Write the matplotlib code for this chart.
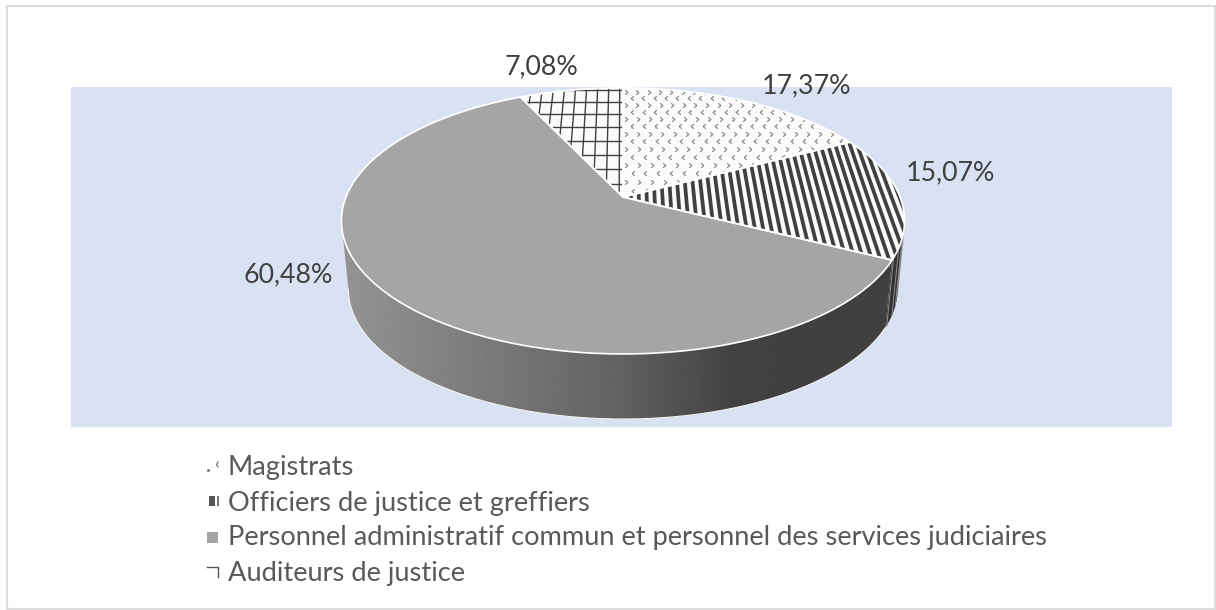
"""3D-looking pie of staff shares, drawn in pixel coordinates."""

import matplotlib

matplotlib.use("Agg")

import matplotlib.pyplot as plt
import numpy as np
from matplotlib.patches import Polygon, Rectangle
from matplotlib.path import Path

CATEGORIES = [
    "Magistrats",
    "Officiers de justice et greffiers",
    "Personnel administratif commun et personnel des services judiciaires",
    "Auditeurs de justice",
]
SHARES = [17.37, 15.07, 60.48, 7.08]

LABEL_POS = [(807, 86), (950, 173), (288, 275), (541, 67)]
LEGEND_Y = [468, 503, 538, 573]

DARK = "#404040"
PALE = "#FBFBFB"
GREY = "#A5A5A5"
BAND = "#D9E2F3"

# perspective of the pie's disc: apex, scale and foreshortening
APEX_X, APEX_Y = 623, 197
SCALE_X, SCALE_Y, PERSP = 277, 128.7, 0.18
WALL_SHRINK, WALL_DROP = 0.975, 69

plt.rcParams["font.family"] = ["Lato", "DejaVu Sans"]


def project(x, y, shrink=1.0, drop=0.0):
    """Disc coordinates (unit circle) to picture pixels."""
    x, y = np.asarray(x, float), np.asarray(y, float)
    d = 1 + PERSP * y
    return (
        APEX_X + shrink * SCALE_X * x / d,
        APEX_Y + drop - shrink * SCALE_Y * y / d,
    )


def rim(t0, t1, shrink=1.0, drop=0.0, n=200):
    t = np.radians(np.linspace(t0, t1, n))
    return np.column_stack(project(np.sin(t), np.cos(t), shrink, drop))


def wedge(ax, t0, t1, colour):
    pts = np.vstack([[APEX_X, APEX_Y], rim(t0, t1)])
    patch = Polygon(pts, closed=True, fc=colour, ec="none", zorder=3)
    ax.add_patch(patch)
    return pts, patch


def chevrons(ax, patch):
    left = Path([(0.6, 1), (-0.6, 0), (0.6, -1)], [1, 2, 2])
    right = Path([(-0.6, 1), (0.6, 0), (-0.6, -1)], [1, 2, 2])
    for row, y in enumerate(np.arange(-0.02, 1.02, 0.07)):
        off = 0.024 * (row % 2)
        xs = np.arange(0.012 + off, 1.0, 0.048)
        px, py = project(xs, np.full_like(xs, y))
        line, = ax.plot(
            px, py, ls="none", marker=left if row % 2 else right, ms=3.2,
            mfc="none", mec="#808080", mew=0.8, zorder=4,
        )
        line.set_clip_path(patch)


def stripes(ax, patch):
    for x in np.arange(0.0, 1.05, 0.0285):
        px, py = project([x, x], [-1.0, 1.0])
        line, = ax.plot(px, py, color=DARK, lw=2.7, solid_capstyle="butt", zorder=4)
        line.set_clip_path(patch)


def grid(ax, patch):
    for x in np.arange(-0.014, -0.5, -0.047):
        px, py = project([x, x], [-0.1, 1.1])
        line, = ax.plot(px, py, color=DARK, lw=1.0, zorder=4)
        line.set_clip_path(patch)
    for y in np.arange(0.1, 1.1, 0.125):
        px, py = project([-1, 0], [y, y])
        line, = ax.plot(px, py, color=DARK, lw=1.0, zorder=4)
        line.set_clip_path(patch)


def wall(ax, t0, t1):
    """Grey side of the big slice, plus the striped sliver right of it."""
    tangent = np.degrees(np.arccos(-PERSP))
    top = rim(t0, 360 - tangent)
    bottom = rim(360 - tangent, t0, WALL_SHRINK, WALL_DROP)
    pts = np.vstack([top, bottom])
    patch = Polygon(pts, closed=True, fc="none", ec="none", zorder=2)
    ax.add_patch(patch)
    xs = np.arange(335, 900)
    vals = np.interp(xs, [341, 620, 735, 900], [0.58, 0.385, 0.255, 0.25])
    img = ax.imshow(
        vals[None, :], extent=(335, 900, 430, 200), cmap="gray", vmin=0, vmax=1,
        aspect="auto", zorder=2, interpolation="bilinear",
    )
    img.set_clip_path(patch)
    ax.plot(bottom[:, 0], bottom[:, 1], color="#F2F2F2", lw=0.8, zorder=2)

    side = np.vstack([rim(tangent, t0), rim(t0, tangent, WALL_SHRINK, WALL_DROP)])
    sliver = Polygon(side, closed=True, fc="#333333", ec="none", zorder=2)
    ax.add_patch(sliver)
    for t in np.linspace(tangent + 3, t0 - 1, 4):
        a = np.radians(t)
        xa, ya = project(np.sin(a), np.cos(a))
        xb, yb = project(np.sin(a), np.cos(a), WALL_SHRINK, WALL_DROP)
        ax.plot([xa, xb], [ya, yb], color="#8C8C8C", lw=0.7, zorder=2)


def legend_marks(ax):
    ax.plot([208], [470], "s", ms=1, color="#777777")
    ax.plot([218, 216.5, 218], [462, 464.5, 467], color="#777777", lw=0.9)
    ax.add_patch(Rectangle((209, 496), 6, 10, fc="#555555", ec="none"))
    ax.add_patch(Rectangle((217, 496), 1.5, 10, fc="#777777", ec="none"))
    ax.add_patch(Rectangle((207, 532), 11, 11, fc=GREY, ec="none"))
    ax.plot([207, 217.5, 217.5], [567, 567, 577], color="#555555", lw=1)


def main():
    fig = plt.figure(figsize=(12.16, 6.10), dpi=100)
    ax = fig.add_axes([0, 0, 1, 1])
    ax.set_xlim(0, 1216)
    ax.set_ylim(610, 0)
    ax.axis("off")

    ax.add_patch(Rectangle((6.5, 6), 1208.5, 603, fc="white", ec="#DDDDDD", lw=1.6, zorder=0))
    ax.add_patch(Rectangle((71, 87), 1101, 339.5, fc=BAND, ec="none", zorder=1))

    edges = np.concatenate([[0], np.cumsum(SHARES)]) * 3.6 * 100 / sum(SHARES)
    wall(ax, edges[2], edges[3])

    fills = [PALE, PALE, GREY, PALE]
    painters = [chevrons, stripes, None, grid]
    for i, (fill, paint) in enumerate(zip(fills, painters)):
        pts, patch = wedge(ax, edges[i], edges[i + 1], fill)
        if paint:
            paint(ax, patch)
        ax.plot(
            np.append(pts[:, 0], pts[0, 0]), np.append(pts[:, 1], pts[0, 1]),
            color="white", lw=1.2, zorder=5,
        )

    for share, (x, y) in zip(SHARES, LABEL_POS):
        ax.text(
            x, y, f"{share:.2f}%".replace(".", ","), fontsize=19.3, color=DARK,
            ha="center", va="center", zorder=6,
        )

    legend_marks(ax)
    for cat, y in zip(CATEGORIES, LEGEND_Y):
        ax.text(228, y, cat, fontsize=19.6, color="#595959", ha="left", va="center", zorder=6)

    fig.savefig("out.png", dpi=100)


if __name__ == "__main__":
    main()
